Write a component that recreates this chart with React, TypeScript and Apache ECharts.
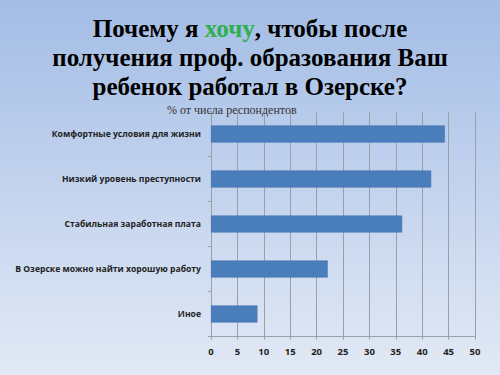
import React, { useEffect, useRef } from "react";
import * as echarts from "echarts";

const categories = [
  "Комфортные условия для жизни",
  "Низкий уровень преступности",
  "Стабильная заработная плата",
  "В Озерске можно найти хорошую работу",
  "Иное",
];
const values = [44.3, 41.7, 36.2, 22.1, 8.8];
const xTicks = { min: 0, max: 50, interval: 5 };

const SERIF = "Liberation Serif";
const titleFont = {
  fontFamily: SERIF,
  fontWeight: "bold" as const,
  fontSize: 25,
  color: "#000",
};

export default function App() {
  const ref = useRef<HTMLDivElement>(null);
  useEffect(() => {
    document.body.style.margin = "0";
    const chart = echarts.init(ref.current!, null, { renderer: "svg" });
    chart.setOption({
      animation: false,
      backgroundColor: {
        type: "linear",
        x: 0, y: 0, x2: 0, y2: 1,
        colorStops: [
          { offset: 0, color: "#a3bde5" },
          { offset: 0.5, color: "#c3d3ee" },
          { offset: 1, color: "#e2e9f5" },
        ],
      },
      title: [
        {
          text: "{b|Почему я }{g|хочу}{b|, чтобы после}",
          left: "center",
          top: 11,
          textStyle: {
            fontFamily: SERIF,
            fontWeight: "bold",
            fontSize: 25,
            rich: {
              b: { ...titleFont },
              g: { ...titleFont, color: "#2fb04f" },
            },
          },
        },
        {
          text: "получения проф. образования Ваш",
          left: "center",
          top: 40,
          textStyle: { ...titleFont },
        },
        {
          text: "ребенок работал в Озерске?",
          left: "center",
          top: 69,
          textStyle: { ...titleFont },
        },
        {
          text: "% от числа респондентов",
          left: 162,
          top: 99,
          textStyle: {
            fontFamily: SERIF,
            fontWeight: "normal",
            fontSize: 12,
            color: "#333",
          },
        },
      ],
      grid: { left: 211, right: 25, top: 111.5, bottom: 38.5, containLabel: false },
      xAxis: {
        type: "value",
        min: xTicks.min,
        max: xTicks.max,
        interval: xTicks.interval,
        axisLine: { show: true, lineStyle: { color: "#9a9fa8" } },
        axisTick: { show: true, length: 3, lineStyle: { color: "#9a9fa8" } },
        splitLine: { show: true, lineStyle: { color: "#9a9fa8", width: 1 } },
        axisLabel: {
          fontFamily: "Open Sans",
          fontWeight: "bold",
          fontSize: 9.5,
          color: "#222",
          margin: 10,
        },
      },
      yAxis: {
        type: "category",
        inverse: true,
        data: categories,
        axisLine: { show: true, lineStyle: { color: "#9a9fa8" } },
        axisTick: { show: true, length: 3, lineStyle: { color: "#9a9fa8" } },
        axisLabel: {
          fontFamily: "Open Sans",
          fontWeight: "bold",
          fontSize: 8.6,
          color: "#222",
          margin: 10,
        },
      },
      series: [
        {
          type: "bar",
          data: values,
          barWidth: 17,
          itemStyle: {
            color: "#4a7ebb",
            borderColor: "#3f6fa8",
            borderWidth: 0.5,
          },
        },
      ],
    });
    return () => chart.dispose();
  }, []);
  return (
    <div
      ref={ref}
      style={{ width: 500, height: 375, position: "absolute", left: 0, top: 0 }}
    />
  );
}
